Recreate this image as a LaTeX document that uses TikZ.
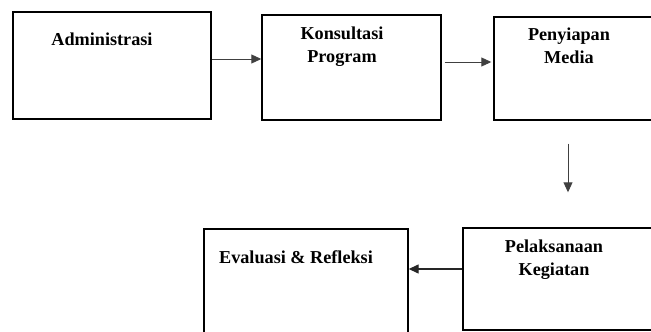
\documentclass[tikz,border=0pt]{standalone}
\usepackage{fontspec}
\setmainfont{Liberation Serif}
\usetikzlibrary{arrows.meta}

\begin{document}
\begin{tikzpicture}[x=1pt,y=-1pt,
    box/.style={draw,line width=1.4pt,inner sep=0pt},
    lbl/.style={anchor=north,inner sep=0pt,align=center,font=\fontsize{18.2}{23}\selectfont\bfseries},
    arr/.style={-{Triangle[length=10pt,width=9pt]},line width=0.9pt,draw=black!75}]
    \useasboundingbox (0,0) rectangle (651,332);
    \clip (0,0) rectangle (651,332);
    % kotak
    \node[box,minimum width=198pt,minimum height=107pt] (adm) at (112,65.5) {};
    \node[box,minimum width=179pt,minimum height=105pt] (kon) at (351.5,67.5) {};
    \node[box,minimum width=161pt,minimum height=103pt] (pen) at (574.5,68.5) {};
    \node[box,minimum width=204pt,minimum height=107pt] (eva) at (306,282.5) {};
    \node[box,minimum width=192pt,minimum height=102pt] (pel) at (559,279) {};
    % teks
    \node[lbl] (admt) at (102,33) {Administrasi};
    \node[lbl] (kont) at (342,27) {Konsultasi\\Program};
    \node[lbl] (pent) at (569,28) {Penyiapan\\Media};
    \node[lbl] (pelt) at (554,240) {Pelaksanaan\\Kegiatan};
    \node[lbl] (evat) at (296,250) {Evaluasi \& Refleksi};
    % panah
    \draw[arr] ([yshift=6.5pt]adm.east) -- ([yshift=6.5pt]adm.east -| kon.west);
    \draw[arr,shorten <=3pt,shorten >=2pt] ([yshift=5.5pt]kon.east) -- ([yshift=5.5pt]kon.east -| pen.west);
    \draw[arr,shorten <=23pt,shorten >=35pt] ([xshift=-6.5pt]pen.south) -- ([xshift=-6.5pt]pen.south |- pel.north);
    \draw[arr,line width=1.4pt,draw=black!85] ([yshift=10pt]pel.west) -- ([yshift=10pt]pel.west -| eva.east);
\end{tikzpicture}
\end{document}
